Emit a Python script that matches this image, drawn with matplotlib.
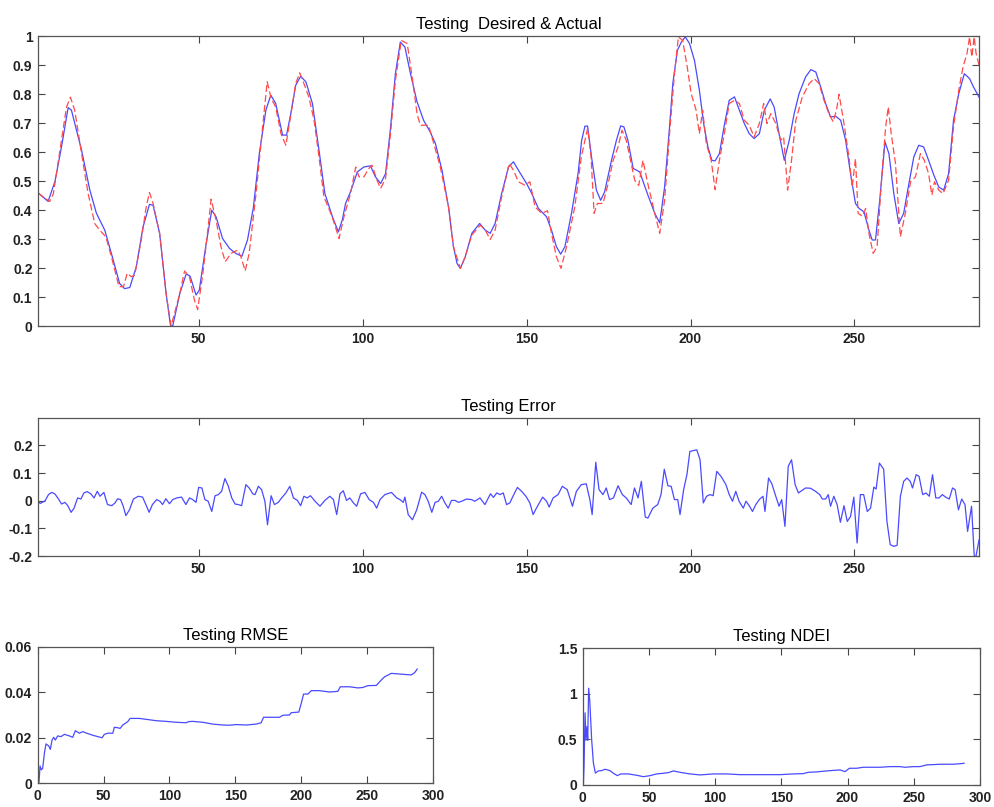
import numpy as np
import matplotlib
matplotlib.use('Agg')
import matplotlib.pyplot as plt

plt.rcParams['font.family'] = ['Liberation Sans', 'DejaVu Sans']

# Testing: actual (network output, blue) and desired (target, red dashed)
actual_x = [1, 4.1, 6.2, 8.2, 10.2, 11.2, 14.3, 16.8, 18.8, 21.4, 23.4, 25.9, 27.4, 29, 31, 33, 35, 36.1,
            38.1, 40.1, 41.4, 42.1, 44.2, 46.2, 47.4, 49.2, 50.2, 52.3, 54, 55.3, 57.3, 59.4, 61.4, 63.2,
            64.9, 66.7, 68.5, 70.5, 72, 73.5, 75.6, 76.8, 78.1, 79.6, 81.1, 82.7, 84.7, 86.7, 88.5, 90.8,
            92.6, 93.8, 94.8, 96.3, 98.4, 100.4, 102.4, 103.9, 105.5, 107, 108.5, 110, 111.5, 112.9, 114.6,
            116.6, 118.6, 120.6, 122.2, 124.2, 126.2, 127.7, 128.8, 129.8, 131.3, 133.3, 135.7, 137.4, 138.9,
            140.4, 142.4, 144.5, 146, 147.5, 150, 151.6, 153.6, 156.1, 157.6, 159.1, 160.4, 161.7, 163.7,
            165.7, 166.8, 167.8, 168.6, 169.8, 171.3, 172.6, 173.8, 175.9, 177.4, 178.7, 179.7, 180.9, 182.5,
            184.5, 187, 189.1, 190.6, 192.1, 193.6, 194.6, 196, 197.2, 198.4, 199.7, 201.2, 202.7, 204,
            205.3, 206.5, 207.5, 208.8, 210.3, 211.8, 213.4, 214.9, 216.4, 217.9, 219.4, 221, 222.5, 224.3,
            225.5, 227, 228.6, 230.1, 231.6, 233.1, 235.1, 236.7, 238.2, 239.7, 241.2, 242.7, 244.3, 245.8,
            247.3, 248.8, 250.3, 251.4, 252.9, 254.4, 255.4, 256.4, 257.7, 259.3, 260.5, 262, 263.5, 265,
            266.6, 268.1, 269.6, 271.1, 272.6, 274.2, 275.7, 277.2, 278.7, 280.2, 281.8, 283.5, 285.1,
            286.3, 288]
actual_y = [0.46, 0.43, 0.50, 0.62, 0.754, 0.745, 0.607, 0.47, 0.39, 0.33, 0.25, 0.147, 0.129, 0.133, 0.205,
            0.34, 0.42, 0.417, 0.32, 0.11, 0.003, 0.0, 0.11, 0.18, 0.172, 0.107, 0.124, 0.285, 0.40, 0.377,
            0.302, 0.268, 0.25, 0.241, 0.297, 0.41, 0.595, 0.745, 0.797, 0.768, 0.659, 0.659, 0.733, 0.831,
            0.862, 0.843, 0.768, 0.607, 0.457, 0.377, 0.325, 0.366, 0.423, 0.463, 0.532, 0.549, 0.553, 0.515,
            0.492, 0.526, 0.682, 0.871, 0.98, 0.963, 0.871, 0.774, 0.71, 0.67, 0.63, 0.538, 0.411, 0.274,
            0.216, 0.199, 0.239, 0.32, 0.354, 0.331, 0.32, 0.354, 0.457, 0.549, 0.567, 0.538, 0.492, 0.457,
            0.406, 0.377, 0.331, 0.274, 0.248, 0.274, 0.389, 0.526, 0.641, 0.69, 0.69, 0.584, 0.469, 0.434,
            0.463, 0.572, 0.641, 0.691, 0.687, 0.641, 0.544, 0.532, 0.452, 0.389, 0.356, 0.48, 0.687, 0.837,
            0.952, 0.98, 0.998, 0.975, 0.917, 0.814, 0.699, 0.618, 0.572, 0.57, 0.595, 0.693, 0.779, 0.791,
            0.745, 0.699, 0.664, 0.647, 0.664, 0.745, 0.784, 0.756, 0.664, 0.572, 0.641, 0.733, 0.802, 0.86,
            0.885, 0.877, 0.825, 0.768, 0.722, 0.724, 0.71, 0.641, 0.526, 0.423, 0.406, 0.394, 0.331, 0.297,
            0.297, 0.434, 0.636, 0.595, 0.457, 0.354, 0.389, 0.492, 0.584, 0.624, 0.618, 0.572, 0.521, 0.48,
            0.469, 0.526, 0.71, 0.802, 0.871, 0.854, 0.825, 0.79]

desired_x = [1, 2.5, 4.6, 5.7, 7.7, 9.7, 10.9, 12.2, 14.3, 16.3, 18.3, 19.8, 21.7, 23.4, 25.7, 27.1, 28.2,
             29.5, 30.5, 32.5, 34, 35, 36.1, 38.1, 40.1, 41.6, 44.2, 45.7, 47.2, 48.7, 49.7, 51.3, 52.8, 53.8,
             55.3, 56.8, 58.1, 59.9, 61.9, 62.9, 64.2, 65.4, 67.5, 69.5, 70.9, 72.1, 73.5, 75.1, 76.6, 78.1,
             79.6, 80.8, 82.1, 83.6, 85.2, 86.7, 88.2, 90.5, 91.5, 92.8, 94.3, 96.3, 97.9, 98.9, 100.4, 101.9,
             102.9, 104.4, 105.5, 107, 108.5, 110, 111.8, 113.6, 115.1, 116.6, 117.6, 120.1, 121.7, 123.7,
             126.2, 127.7, 129.8, 131.3, 133.3, 135.9, 137.4, 138.9, 140.4, 142.4, 144.7, 146, 147.5, 149.5,
             151, 152.6, 154.6, 156.4, 157.6, 159.1, 160.5, 162.2, 164.7, 166.7, 168.6, 169.6, 170.6, 171.6,
             173.3, 174.9, 176.4, 177.9, 179.1, 180.4, 181.9, 183, 184.2, 185.5, 187, 189.1, 190.6, 192.1,
             193.6, 195.1, 196.3, 197.6, 199, 200.2, 201.7, 202.7, 203.7, 204.8, 206.3, 207.5, 208.8, 210.3,
             211.8, 213.4, 214.9, 216.4, 217.9, 219.4, 221, 222.3, 223.3, 224.5, 226, 227.5, 228.4, 229.6,
             230.8, 232.1, 234.1, 236.2, 237.7, 239.2, 240.7, 242.2, 243.5, 244.5, 245.3, 246.8, 248.3, 249.3,
             250.3, 251.1, 252.4, 253.4, 254.4, 255.7, 256.9, 258.1, 259.5, 260.3, 261.2, 262.5, 264, 265.5,
             267.1, 268.6, 270.1, 271.3, 272.6, 273.6, 274.4, 275.7, 277, 278.7, 280.2, 281.8, 283.1, 284.3,
             285.1, 285.8, 286.5, 287.1, 288]
desired_y = [0.46, 0.446, 0.43, 0.457, 0.607, 0.756, 0.79, 0.745, 0.595, 0.457, 0.354, 0.331, 0.308, 0.239,
             0.136, 0.136, 0.182, 0.17, 0.176, 0.297, 0.411, 0.461, 0.423, 0.32, 0.11, 0.0, 0.11, 0.19, 0.17,
             0.09, 0.057, 0.182, 0.331, 0.438, 0.366, 0.274, 0.222, 0.251, 0.262, 0.239, 0.19, 0.251, 0.457,
             0.687, 0.843, 0.786, 0.756, 0.664, 0.624, 0.728, 0.837, 0.874, 0.837, 0.791, 0.71, 0.584, 0.446,
             0.383, 0.35, 0.302, 0.377, 0.457, 0.549, 0.515, 0.515, 0.544, 0.555, 0.503, 0.475, 0.509, 0.664,
             0.848, 0.986, 0.975, 0.86, 0.733, 0.693, 0.693, 0.63, 0.549, 0.411, 0.274, 0.199, 0.239, 0.314,
             0.348, 0.331, 0.299, 0.331, 0.446, 0.561, 0.538, 0.498, 0.486, 0.498, 0.411, 0.389, 0.398, 0.32,
             0.239, 0.199, 0.274, 0.411, 0.584, 0.682, 0.595, 0.389, 0.423, 0.423, 0.492, 0.572, 0.618, 0.676,
             0.641, 0.561, 0.503, 0.485, 0.572, 0.49, 0.389, 0.32, 0.434, 0.664, 0.871, 0.998, 0.986, 0.894,
             0.802, 0.745, 0.664, 0.745, 0.63, 0.572, 0.471, 0.572, 0.664, 0.768, 0.779, 0.768, 0.71, 0.693,
             0.653, 0.699, 0.768, 0.699, 0.733, 0.699, 0.641, 0.653, 0.469, 0.572, 0.71, 0.791, 0.837, 0.854,
             0.837, 0.779, 0.733, 0.705, 0.745, 0.8, 0.699, 0.584, 0.48, 0.578, 0.389, 0.379, 0.406, 0.32,
             0.251, 0.274, 0.48, 0.687, 0.756, 0.664, 0.561, 0.308, 0.389, 0.498, 0.515, 0.595, 0.572, 0.526,
             0.452, 0.498, 0.469, 0.457, 0.503, 0.687, 0.814, 0.894, 0.94, 0.998, 0.929, 0.998, 0.94, 0.9]

# Testing error
err_x = [1, 1.7, 3.2, 4.2, 5.2, 6.2, 7.2, 8.2, 9.2, 10.1, 11.1, 12, 13.1, 14.1, 15, 16, 17.1, 18.1, 19.1,
         19.9, 21.1, 22.2, 23.5, 24.5, 25.3, 26.2, 27, 27.8, 28.9, 30.1, 31.6, 32.9, 33.9, 34.9, 35.9, 37.2,
         38.2, 39, 40, 41.1, 42.1, 43.3, 44.8, 46.1, 47.2, 48.2, 49.2, 50, 51, 51.9, 52.9, 54, 55, 56, 57, 58,
         59, 60.1, 61.1, 62.1, 63.1, 64.4, 65.4, 66.5, 67.2, 68.2, 69.2, 70.2, 71, 72.1, 73.1, 74.3, 75.3,
         76.6, 77.8, 78.9, 80.1, 81.1, 82.1, 83.1, 84.1, 85.5, 87, 88.5, 90, 91.1, 92.1, 93.1, 94.1, 95.1,
         96.1, 97.2, 98.2, 99.4, 100.7, 102, 103.3, 104.3, 105.3, 106.8, 108.8, 110.4, 111.4, 112.4, 112.9,
         113.9, 115.2, 116.5, 118, 119, 120, 121.1, 122.1, 123.1, 124.1, 125.1, 126.1, 127.1, 128.2, 129.2,
         130.2, 131.7, 133.2, 134.2, 135.8, 137.3, 139, 139.9, 140.9, 141.9, 142.9, 143.9, 144.9, 146.1,
         147.2, 148.5, 149.8, 151, 152, 153, 154.9, 156.1, 156.9, 158.1, 159.6, 160.9, 162.4, 164, 165.2,
         166.7, 168.2, 169.3, 170, 171.1, 172.1, 173.3, 174.3, 175.3, 176.5, 177.9, 179.2, 180.4, 181.9,
         182.9, 184, 185, 186.2, 187, 188.5, 190, 191, 192, 193.1, 194.1, 195.1, 196.1, 196.8, 197.9, 198.9,
         199.8, 200.9, 201.9, 202.9, 203.9, 204.9, 205.9, 206.9, 208, 209.3, 210.8, 211.8, 212.8, 213.8,
         214.8, 216.1, 216.9, 217.9, 218.9, 219.9, 221.1, 222.1, 222.7, 223.8, 224.8, 226, 227, 227.8,
         228.8, 229.8, 230.8, 231.9, 232.9, 235.1, 236.6, 238.1, 239.4, 240.2, 241.2, 242, 242.7, 243.7,
         244.7, 245.7, 246.8, 247.8, 248.8, 249.8, 250.8, 251.8, 252.8, 253.9, 254.9, 255.9, 256.6, 257.6,
         258.9, 259.9, 260.9, 262, 263, 264, 265, 266, 267, 267.7, 268.8, 269.7, 270.8, 271.8, 272.8, 273.8,
         274.8, 275.8, 276.8, 277.8, 278.9, 279.9, 280.7, 281.7, 282.7, 283.7, 284.5, 285.7, 286.5, 286.9,
         288]
err_y = [-0.002, -0.01, 0.0, 0.022, 0.03, 0.024, 0.007, -0.012, -0.006, -0.018, -0.042, -0.027, 0.01, 0.006,
         0.028, 0.033, 0.025, 0.01, 0.034, 0.016, 0.03, -0.014, -0.018, -0.008, 0.007, 0.004, -0.02, -0.054,
         -0.033, 0.006, 0.016, 0.013, -0.014, -0.042, -0.014, 0.004, -0.002, -0.014, 0.007, -0.011, 0.004,
         0.01, 0.013, -0.014, 0.01, 0.004, -0.006, 0.048, 0.046, 0.004, -0.002, -0.039, 0.018, 0.022, 0.034,
         0.08, 0.054, 0.01, -0.012, -0.014, -0.018, 0.058, 0.046, 0.025, 0.022, 0.052, 0.04, -0.002, -0.087,
         0.018, -0.014, -0.006, 0.01, 0.028, 0.052, 0.01, 0.001, -0.018, 0.016, 0.01, 0.018, -0.002, -0.02,
         0.001, 0.016, 0.004, -0.05, 0.025, 0.036, 0.001, 0.01, -0.008, -0.02, 0.025, 0.03, 0.004, -0.006,
         -0.027, 0.004, 0.022, 0.03, 0.01, 0.004, -0.006, 0.013, -0.05, -0.069, -0.033, 0.031, 0.022, -0.002,
         -0.042, -0.006, -0.002, 0.016, -0.008, -0.027, 0.001, 0.001, -0.006, -0.002, 0.006, 0.004, -0.002,
         0.01, -0.014, 0.025, 0.012, 0.028, 0.022, 0.028, -0.014, -0.008, 0.022, 0.048, 0.034, 0.016, -0.008,
         -0.05, -0.027, 0.013, -0.002, -0.023, 0.01, 0.022, 0.052, 0.04, -0.02, 0.034, 0.058, 0.061, 0.004,
         -0.05, 0.139, 0.04, 0.022, 0.046, 0.004, 0.01, 0.054, 0.022, 0.01, -0.014, 0.046, 0.01, 0.07, -0.059,
         -0.063, -0.027, -0.014, 0.022, 0.114, 0.054, 0.052, 0.004, 0.004, -0.05, 0.04, 0.094, 0.178, 0.181,
         0.184, 0.148, -0.008, 0.016, 0.022, 0.018, 0.106, 0.088, 0.058, 0.022, -0.002, 0.034, -0.002, -0.027,
         -0.002, -0.018, -0.039, -0.014, 0.006, 0.016, -0.039, 0.082, 0.061, 0.016, -0.02, 0.004, -0.093,
         0.124, 0.148, 0.058, 0.028, 0.046, 0.045, 0.034, 0.022, 0.006, 0.006, 0.022, -0.02, 0.016, -0.014,
         -0.078, -0.018, -0.075, -0.057, 0.013, -0.153, 0.022, 0.022, -0.039, -0.027, 0.049, 0.042, 0.136,
         0.114, -0.075, -0.159, -0.165, -0.161, 0.016, 0.07, 0.082, 0.07, 0.046, 0.094, 0.088, 0.022, 0.028,
         0.016, 0.094, 0.01, 0.01, 0.022, 0.013, 0.006, 0.046, 0.04, -0.033, 0.006, -0.014, -0.111, -0.02,
         -0.195, -0.21, -0.141]

# Running RMSE
rmse_x = [0, 1, 1.8, 2.8, 3.8, 5.1, 6.3, 8.4, 9.6, 10.9, 12.2, 13.4, 15.2, 17.7, 20.3, 24.1, 26.6, 28.6,
          31.6, 34.2, 37.2, 41.8, 45.6, 48.9, 50.6, 53.2, 57, 58.2, 60.8, 62.5, 64.6, 68.4, 70.1, 72.2, 77.2,
          82.3, 89.9, 97.5, 105.1, 112.7, 114.7, 117.7, 125.3, 132.9, 140.5, 145.6, 150.6, 158.2, 165.8,
          169.6, 171.4, 175.9, 183.5, 186.1, 191.1, 192.4, 198.2, 200, 201.8, 205.1, 207.6, 213.9, 221.5,
          227.8, 229.6, 236.7, 243, 246.8, 250.6, 257, 260.8, 263.3, 268.4, 274.7, 283.5, 286.1, 288]
rmse_y = [0, 0.0005, 0.0076, 0.0059, 0.0066, 0.0132, 0.0173, 0.0164, 0.0149, 0.019, 0.0202, 0.019, 0.0208,
          0.0205, 0.0215, 0.0208, 0.0202, 0.0231, 0.022, 0.0227, 0.022, 0.0211, 0.0205, 0.0200, 0.0215,
          0.022, 0.022, 0.0246, 0.0244, 0.0241, 0.0256, 0.0271, 0.0285, 0.0285, 0.0285, 0.0281, 0.0275,
          0.0272, 0.0268, 0.0266, 0.0271, 0.0272, 0.0268, 0.0260, 0.0256, 0.0255, 0.0258, 0.0256, 0.026,
          0.0266, 0.029, 0.029, 0.029, 0.0299, 0.03, 0.031, 0.0313, 0.0351, 0.0392, 0.0392, 0.0407, 0.0407,
          0.0401, 0.0404, 0.0424, 0.0424, 0.0419, 0.0421, 0.0429, 0.043, 0.0454, 0.0468, 0.0483, 0.048,
          0.0476, 0.0486, 0.0502]

# Running NDEI
ndei_x = [0.5, 1, 1.8, 2.5, 3.3, 3.8, 4.5, 5.3, 6.8, 8.1, 9.6, 11.8, 14.3, 16.9, 20.6, 23.2, 26.2, 28.7,
          34.5, 40.8, 45.8, 50.8, 55.9, 60.9, 64.7, 68.5, 71, 74.8, 81, 88.6, 98.7, 108.7, 118.8, 133.9, 149,
          159.1, 166.6, 170.4, 176.7, 184.2, 194.3, 198.1, 201.4, 206.9, 211.9, 224.5, 232.1, 239.6, 243.4,
          249.7, 254.7, 259.8, 264.8, 269.8, 279.9, 286.2, 288]
ndei_y = [0, 0.2, 0.79, 0.49, 0.64, 0.49, 1.06, 0.93, 0.49, 0.24, 0.13, 0.154, 0.157, 0.172, 0.157, 0.128,
          0.102, 0.121, 0.121, 0.106, 0.091, 0.102, 0.121, 0.128, 0.135, 0.154, 0.146, 0.135, 0.121, 0.11,
          0.121, 0.121, 0.113, 0.113, 0.113, 0.121, 0.124, 0.139, 0.143, 0.154, 0.165, 0.146, 0.183, 0.183,
          0.194, 0.194, 0.201, 0.201, 0.194, 0.201, 0.201, 0.22, 0.223, 0.227, 0.227, 0.234, 0.238]

top_yticks = [0, 0.1, 0.2, 0.3, 0.4, 0.5, 0.6, 0.7, 0.8, 0.9, 1]
top_ylabels = ['0', '0.1', '0.2', '0.3', '0.4', '0.5', '0.6', '0.7', '0.8', '0.9', '1']
err_yticks = [-0.2, -0.1, 0, 0.1, 0.2]
err_ylabels = ['-0.2', '-0.1', '0', '0.1', '0.2']
mid_xticks = [50, 100, 150, 200, 250]
bot_xticks = [0, 50, 100, 150, 200, 250, 300]
rmse_yticks = [0, 0.02, 0.04, 0.06]
rmse_ylabels = ['0', '0.02', '0.04', '0.06']
ndei_yticks = [0, 0.5, 1, 1.5]
ndei_ylabels = ['0', '0.5', '1', '1.5']

BLUE = '#4a4aff'
RED = '#ff4a4a'


def style(ax):
    for s in ax.spines.values():
        s.set_color('#555555')
        s.set_linewidth(0.9)
    ax.tick_params(direction='in', top=True, right=True, length=5, width=0.8,
                   color='#444444', labelsize=10, pad=4)
    for lab in ax.get_xticklabels() + ax.get_yticklabels():
        lab.set_fontweight('bold')
        lab.set_color('#222222')


fig = plt.figure(figsize=(9.94, 8.07), dpi=100)

ax1 = fig.add_axes([0.0382, 0.596, 0.9468, 0.359])
ax1.plot(actual_x, actual_y, color=BLUE, lw=0.9)
ax1.plot(desired_x, desired_y, color=RED, lw=0.9, ls=(0, (5.5, 2.5)))
ax1.set_xlim(1, 288)
ax1.set_ylim(0, 1)
ax1.set_xticks(mid_xticks)
ax1.set_yticks(top_yticks)
ax1.set_yticklabels(top_ylabels)
ax1.set_title('Testing  Desired & Actual', fontsize=12, pad=5)
style(ax1)

ax2 = fig.add_axes([0.0382, 0.311, 0.9468, 0.1714])
ax2.plot(err_x, err_y, color=BLUE, lw=0.9)
ax2.set_xlim(1, 288)
ax2.set_ylim(-0.2, 0.3)
ax2.set_xticks(mid_xticks)
ax2.set_yticks(err_yticks)
ax2.set_yticklabels(err_ylabels)
ax2.set_title('Testing Error', fontsize=12, pad=5)
style(ax2)

ax3 = fig.add_axes([0.0379, 0.0294, 0.3977, 0.1692])
ax3.plot(rmse_x, rmse_y, color=BLUE, lw=0.9)
ax3.set_xlim(0, 300)
ax3.set_ylim(0, 0.06)
ax3.set_xticks(bot_xticks)
ax3.set_xticklabels([str(t) for t in bot_xticks])
ax3.set_yticks(rmse_yticks)
ax3.set_yticklabels(rmse_ylabels)
ax3.set_title('Testing RMSE', fontsize=12, pad=5)
style(ax3)

ax4 = fig.add_axes([0.5862, 0.0273, 0.3997, 0.1697])
ax4.plot(ndei_x, ndei_y, color=BLUE, lw=0.9)
ax4.set_xlim(0, 300)
ax4.set_ylim(0, 1.5)
ax4.set_xticks(bot_xticks)
ax4.set_xticklabels([str(t) for t in bot_xticks])
ax4.set_yticks(ndei_yticks)
ax4.set_yticklabels(ndei_ylabels)
ax4.set_title('Testing NDEI', fontsize=12, pad=5)
style(ax4)

fig.savefig('out.png', dpi=100)
